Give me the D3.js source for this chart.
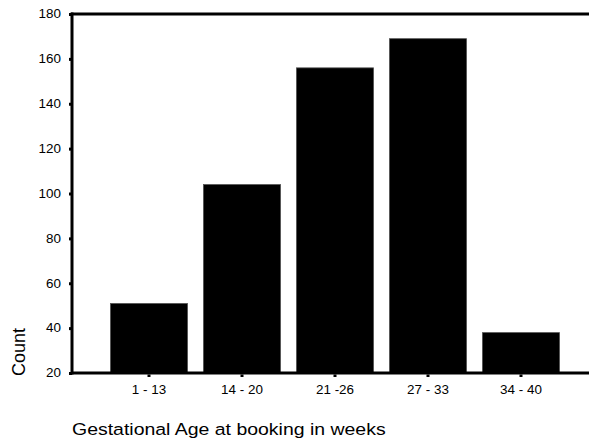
<!DOCTYPE html>
<html>
<head>
<meta charset="utf-8">
<script src="https://cdn.jsdelivr.net/npm/d3@7"></script>
<style>
body{margin:0;background:#fff;}
svg{display:block;font-family:"Liberation Sans",Arial,sans-serif;}
</style>
</head>
<body>
<svg id="chart" width="589" height="439"></svg>
<script>
const categories = ["1 - 13","14 - 20","21 -26","27 - 33","34 - 40"];
const counts = [51, 104, 156, 169, 38];
const yTicks = [20,40,60,80,100,120,140,160,180];

const svg = d3.select("#chart");
const x = d3.scaleBand().domain(categories).range([72,598]).paddingInner(0.17).paddingOuter(0.413);
const y = d3.scaleLinear().domain([20,180]).range([373,14]);
const sx = 1.12;

// bars
svg.append("g").selectAll("rect").data(categories).join("rect")
  .attr("x", d => x(d))
  .attr("width", x.bandwidth())
  .attr("y", (d,i) => y(counts[i]))
  .attr("height", (d,i) => y(20) - y(counts[i]))
  .attr("fill", "#000")
  .attr("stroke", "#555")
  .attr("stroke-width", 0.8);

// top frame line
svg.append("line").attr("x1",71).attr("x2",589).attr("y1",y(180)).attr("y2",y(180))
  .attr("stroke","#000").attr("stroke-width",3);

// y axis
const yAxis = svg.append("g").attr("transform","translate(72,0)")
  .call(d3.axisLeft(y).tickValues(yTicks).tickSize(3).tickPadding(8));
yAxis.select(".domain").attr("stroke-width",3).attr("d", `M0,${y(180)-1.5}V${y(20)+1.5}`);
yAxis.selectAll(".tick line").attr("stroke-width",3);
yAxis.selectAll("text").attr("font-size",12).attr("fill","#000")
  .attr("font-family","'Liberation Sans',Arial,sans-serif")
  .attr("x", -11/sx).attr("transform", `scale(${sx},1)`);

// x axis
const xAxis = svg.append("g").attr("transform",`translate(0,${y(20)})`)
  .call(d3.axisBottom(x).tickSize(3).tickPadding(9));
xAxis.select(".domain").attr("stroke-width",3).attr("d","M71,0H589");
xAxis.selectAll(".tick line").attr("stroke-width",3).attr("y1",1.5).attr("y2",4);
xAxis.selectAll("text").attr("font-size",12).attr("fill","#000")
  .attr("font-family","'Liberation Sans',Arial,sans-serif")
  .attr("transform", `scale(${sx},1)`);

// axis titles
svg.append("text").attr("transform","translate(25,352) rotate(-90)")
  .attr("text-anchor","middle").attr("font-size",18).attr("fill","#000").text("Count");
svg.append("text").attr("transform","translate(72,435) scale(1.18,1)")
  .attr("font-size",16.5).attr("fill","#000").text("Gestational Age at booking in weeks");
</script>
</body>
</html>
